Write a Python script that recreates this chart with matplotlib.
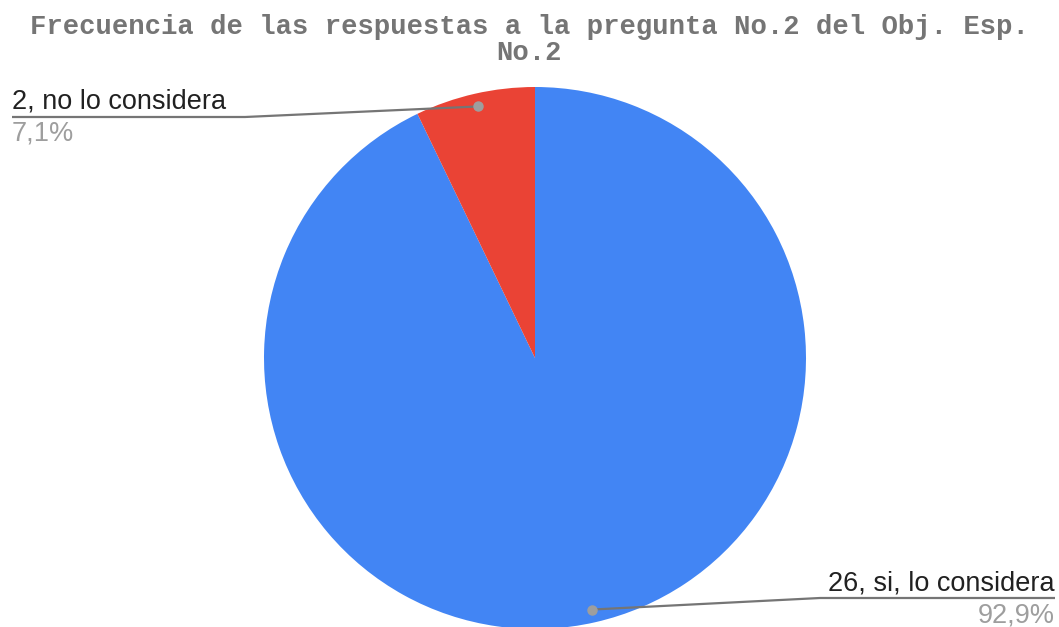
import numpy as np
import matplotlib
matplotlib.use("Agg")
import matplotlib.pyplot as plt

# datos del grafico
labels = ["26, si, lo considera", "2, no lo considera"]
values = [26, 2]
pct_labels = ["92,9%", "7,1%"]
colors = ["#4285F4", "#EA4335"]
title = "Frecuencia de las respuestas a la pregunta No.2 del Obj. Esp.\nNo.2"

W, H = 1059, 627
fig = plt.figure(figsize=(W / 100, H / 100), dpi=100)
ax = fig.add_axes([0, 0, 1, 1])

cx, cy, r = 535, H - 358, 271
wedges, _ = ax.pie(values, colors=colors, startangle=90, counterclock=False,
                   center=(cx, cy), radius=r, frame=True,
                   wedgeprops=dict(linewidth=0))
ax.set_xlim(0, W)
ax.set_ylim(0, H)
ax.set_aspect("equal")
ax.axis("off")

# posiciones de las etiquetas (pixeles)
text_pos = [(1055, H - 598, "right", 820), (12, H - 117, "left", 245)]

for w, lab, pct, (tx, ty, ha, bend) in zip(wedges, labels, pct_labels, text_pos):
    ang = np.deg2rad((w.theta1 + w.theta2) / 2)
    dx = cx + 0.952 * r * np.cos(ang)
    dy = cy + 0.952 * r * np.sin(ang)
    ax.plot([dx, bend, tx], [dy, ty, ty], color="#757575", lw=1.6, zorder=3,
            solid_capstyle="butt")
    ax.plot(dx, dy, "o", color="#9e9e9e", ms=6.5, zorder=4)
    ax.text(tx, ty + 8, lab, ha=ha, va="baseline", fontsize=19.5,
            family="Liberation Sans", color="#212121")
    ax.text(tx, ty - 24, pct, ha=ha, va="baseline", fontsize=19.5,
            family="Liberation Sans", color="#9e9e9e")

fig.text(0.5, 1 - 14 / H, title, ha="center", va="top", fontsize=19.6,
         family="Liberation Mono", fontweight="bold", color="#757575",
         linespacing=1.0)

plt.savefig("out.png", dpi=100)
plt.close()
